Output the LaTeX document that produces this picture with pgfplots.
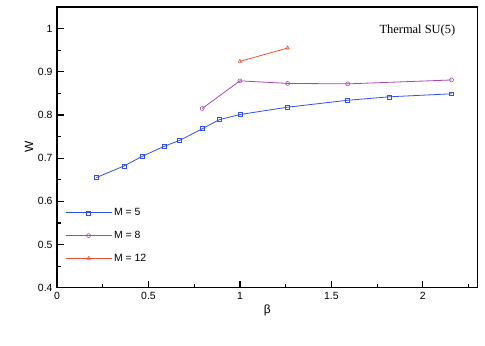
\documentclass[border=0pt]{standalone}
\usepackage{fontspec}
\setmainfont{Liberation Sans}
\newfontfamily\timesfont{Liberation Serif}
\usepackage{pgfplots}
\pgfplotsset{compat=1.18}

\definecolor{mfive}{RGB}{50,80,240}
\definecolor{meight}{RGB}{165,70,180}
\definecolor{mtwelve}{RGB}{240,80,48}

\begin{document}
\begin{tikzpicture}
\begin{axis}[
  scale only axis,
  width=420.7bp, height=280.7bp,
  xmin=0, xmax=2.3,
  ymin=0.4, ymax=1.05,
  xtick={0,0.5,1,1.5,2},
  ytick={0.4,0.5,0.6,0.7,0.8,0.9,1},
  minor xtick={0.25,0.75,1.25,1.75,2.25},
  minor ytick={0.45,0.55,0.65,0.75,0.85,0.95,1.05},
  xtick pos=bottom, ytick pos=left,
  tick align=inside,
  major tick length=7bp, minor tick length=4bp,
  every tick/.style={black, line width=1.2pt},
  axis line style={line width=1.5pt},
  font=\fontsize{10.5}{12}\selectfont,
  /pgf/number format/assume math mode=true,
  xticklabel style={yshift=-1bp},
  yticklabel style={xshift=-1bp},
  xlabel={β}, ylabel={W},
  xlabel style={font=\fontsize{12}{14}\selectfont, yshift=2bp},
  ylabel style={font=\fontsize{12}{14}\selectfont, yshift=-2bp},
  legend style={draw=none, fill=none, at={(0.012,0.297)}, anchor=north west,
    font=\fontsize{10.5}{12}\selectfont, row sep=10bp},
  legend cell align=left,
  legend image code/.code={%
    \draw[mark repeat=2, mark phase=2, #1] plot coordinates {(0bp,0bp) (23bp,0bp) (46bp,0bp)};},
  every axis plot/.append style={line width=0.8pt, mark size=2pt, mark options={solid, line width=0.6pt, fill=white}},
]
\addplot[mfive, mark=square] coordinates {
  (0.215,0.655) (0.367,0.682) (0.465,0.704) (0.584,0.727) (0.670,0.741)
  (0.794,0.768) (0.887,0.789) (1.000,0.801) (1.261,0.818) (1.589,0.834)
  (1.817,0.842) (2.157,0.849)
};
\addlegendentry{M = 5}
\addplot[meight, mark=o] coordinates {
  (0.794,0.815) (1.000,0.879) (1.261,0.873) (1.589,0.872) (2.157,0.881)
};
\addlegendentry{M = 8}
\addplot[mtwelve, mark=triangle] coordinates {
  (1.000,0.924) (1.261,0.955)
};
\addlegendentry{M = 12}
\node[anchor=north east, font=\timesfont\fontsize{12.5}{14}\selectfont] at (rel axis cs:0.955,0.95) {Thermal SU(5)};
\end{axis}
\pgfresetboundingbox
\path ([shift={(-57bp,-58.3bp)}]current axis.south west) rectangle ([shift={(7.3bp,7bp)}]current axis.north east);
\end{tikzpicture}
\end{document}
